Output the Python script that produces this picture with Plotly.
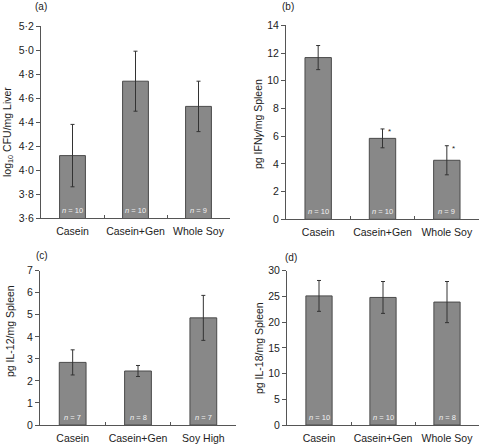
import plotly.graph_objects as go

W, H = 481, 444

cats_a = ["Casein", "Casein+Gen", "Whole Soy"]
vals_a = [4.12, 4.74, 4.53]
err_a = [0.26, 0.25, 0.21]
n_a = ["10", "10", "9"]

cats_b = ["Casein", "Casein+Gen", "Whole Soy"]
vals_b = [11.67, 5.84, 4.26]
err_b = [0.87, 0.68, 1.05]
n_b = ["10", "10", "9"]
star_b = [False, True, True]

cats_c = ["Casein", "Casein+Gen", "Soy High"]
vals_c = [2.84, 2.45, 4.86]
err_c = [0.57, 0.25, 1.02]
n_c = ["7", "8", "7"]

cats_d = ["Casein", "Casein+Gen", "Whole Soy"]
vals_d = [25.1, 24.8, 23.9]
err_d = [3.0, 3.1, 4.0]
n_d = ["10", "10", "8"]

ticks_a = [3.6, 3.8, 4.0, 4.2, 4.4, 4.6, 4.8, 5.0, 5.2]
ticks_b = [0, 2, 4, 6, 8, 10, 12, 14]
ticks_c = [0, 1, 2, 3, 4, 5, 6, 7]
ticks_d = [0, 5, 10, 15, 20, 25, 30]

FONT = "Liberation Sans, Arial, sans-serif"
BAR = "#888888"
EDGE = "#4a4a4a"
AX = "#555555"

fig = go.Figure()

panels = [
    ("", cats_a, vals_a, err_a, n_a, ticks_a, (41, 230), (26, 218), "(a)", "log<sub>10</sub> CFU/mg Liver", (8, 132), (41, 7)),
    ("2", cats_b, vals_b, err_b, n_b, ticks_b, (286, 479), (25.3, 219.3), "(b)", "pg IFN<i>γ</i>/mg Spleen", (258, 124), (288, 7)),
    ("3", cats_c, vals_c, err_c, n_c, ticks_c, (40, 236), (270.7, 425), "(c)", "pg IL-12/mg Spleen", (10, 331), (42, 255)),
    ("4", cats_d, vals_d, err_d, n_d, ticks_d, (287, 479), (270.7, 425), "(d)", "pg IL-18/mg Spleen", (259, 348), (291, 257)),
]

def fmt(t):
    if isinstance(t, float):
        return ("%.1f" % t).replace(".", "·")
    return str(t)

for idx, (suf, cats, vals, errs, ns, ticks, xd, yd, lab, title, tpos, lpos) in enumerate(panels):
    xa = "x" + suf
    ya = "y" + suf
    fig.add_trace(go.Bar(
        x=cats, y=vals, xaxis=xa, yaxis=ya, width=0.41,
        marker=dict(color=BAR, line=dict(color=EDGE, width=1)),
        error_y=dict(type="data", array=errs, visible=True, color="#333333", thickness=1, width=2),
        showlegend=False,
    ))
    xkey = "xaxis" + suf
    ykey = "yaxis" + suf
    fig.layout[xkey] = dict(
        domain=[xd[0] / W, xd[1] / W], anchor=ya, type="category", automargin=False,
        showline=True, linecolor=AX, linewidth=1, ticks="inside", tickson="boundaries",
        ticklen=3, tickcolor=AX, showgrid=False, zeroline=False, tickangle=0,
        ticklabelstandoff=3,
        tickfont=dict(family=FONT, size=10.5, color="#222"), fixedrange=True,
    )
    fig.layout[ykey] = dict(
        domain=[1 - yd[1] / H, 1 - yd[0] / H], anchor=xa, automargin=False,
        range=[ticks[0], ticks[-1]], tickvals=ticks, ticktext=[fmt(t) for t in ticks],
        showline=True, linecolor=AX, linewidth=1, ticks="outside", ticklen=4, tickcolor=AX,
        showgrid=False, zeroline=False,
        tickfont=dict(family=FONT, size=10.5, color="#222"), fixedrange=True,
    )
    for c, n in zip(cats, ns):
        fig.add_annotation(x=c, y=ticks[0], xref=xa, yref=ya, text="<i>n</i> = " + n,
                           showarrow=False, yanchor="bottom", yshift=1,
                           font=dict(family=FONT, size=7.5, color="#f2f2f2"))
    fig.add_annotation(x=lpos[0] / W, y=1 - lpos[1] / H, xref="paper", yref="paper", text=lab,
                       showarrow=False, xanchor="center", yanchor="middle",
                       font=dict(family=FONT, size=10, color="#222"))
    fig.add_annotation(x=tpos[0] / W, y=1 - tpos[1] / H, xref="paper", yref="paper", text=title,
                       showarrow=False, textangle=-90, xanchor="center", yanchor="middle",
                       font=dict(family=FONT, size=10.5, color="#222"))

for c, v, e, s in zip(cats_b, vals_b, err_b, star_b):
    if s:
        fig.add_annotation(x=c, y=v + e, xref="x2", yref="y2", text="*", showarrow=False,
                           xshift=7, yshift=-3, yanchor="middle",
                           font=dict(family=FONT, size=8, color="#222"))

fig.update_layout(
    width=W, height=H, margin=dict(l=0, r=0, t=0, b=0, autoexpand=False),
    paper_bgcolor="white", plot_bgcolor="white", bargap=0.59,
    font=dict(family=FONT, size=10, color="#222"),
)

fig.write_html("out.html", config={"displayModeBar": False},
               post_script="document.body.style.margin='0';document.body.style.overflow='hidden';")
